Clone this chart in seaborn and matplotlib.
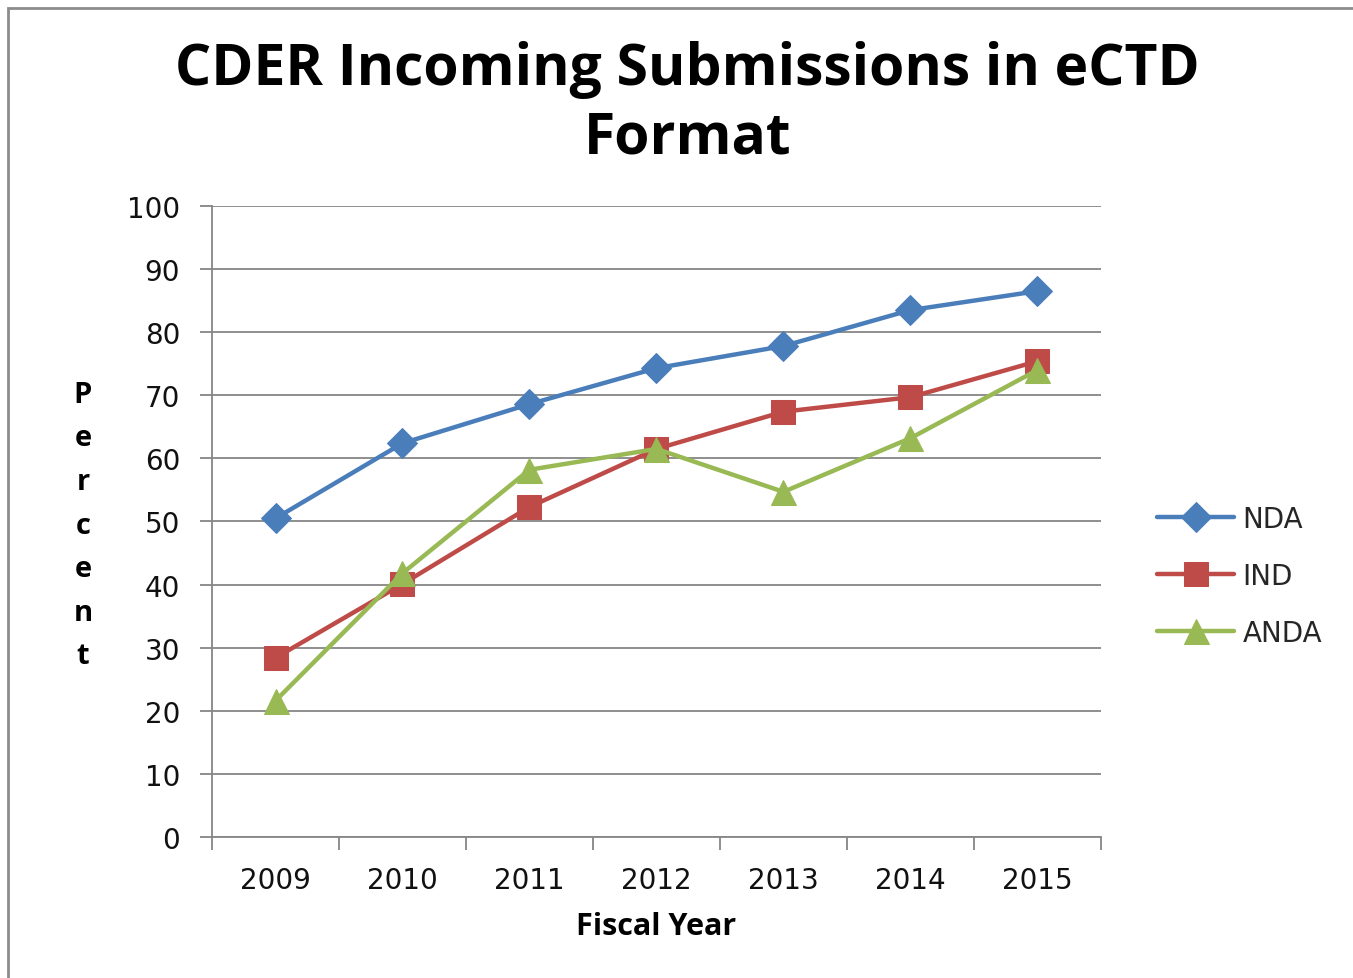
import matplotlib
matplotlib.use("Agg")
import matplotlib.pyplot as plt
import seaborn as sns
import pandas as pd
from matplotlib.patches import Rectangle

# data
years = ['2009', '2010', '2011', '2012', '2013', '2014', '2015']
nda = [50.5, 62.4, 68.6, 74.3, 77.8, 83.5, 86.5]
ind = [28.4, 40.1, 52.3, 61.5, 67.4, 69.7, 75.4]
anda = [21.6, 41.8, 58.2, 61.5, 54.7, 63.2, 74.0]
series_names = ['NDA', 'IND', 'ANDA']
colors = ['#4A7EBB', '#BE4B48', '#98B954']
markers = ['D', 's', '^']
marker_sizes = [15, 17, 18]

sns.set_theme(style='white')
plt.rcParams['font.family'] = ['Open Sans', 'DejaVu Sans']

rows = []
for name, vals in zip(series_names, [nda, ind, anda]):
    for i, v in enumerate(vals):
        rows.append({'pos': i, 'year': years[i], 'value': v, 'series': name})
df = pd.DataFrame(rows)

fig = plt.figure(figsize=(13.53, 9.79), dpi=100)
ax = fig.add_axes([0.1567, 0.144, 0.8137 - 0.1567, 0.7886 - 0.144])

for name, c, m, ms in zip(series_names, colors, markers, marker_sizes):
    sub = df[df['series'] == name]
    sns.lineplot(data=sub, x='pos', y='value', ax=ax, color=c, marker=m,
                 markersize=ms, markeredgecolor=c, linewidth=3.2, label=name)

grid_c = '#868686'
tick_font = {'family': 'DejaVu Sans', 'size': 20}
ax.set_xlim(-0.5, 6.5)
ax.set_ylim(0, 100)
ax.set_yticks(range(0, 101, 10))
ax.set_yticklabels([str(v) for v in range(0, 101, 10)], fontdict=tick_font)
ax.yaxis.grid(True, color=grid_c, linewidth=1.3)
ax.set_axisbelow(True)
ax.set_xticks(range(len(years)))
ax.set_xticklabels(years, fontdict=tick_font)
ax.set_xticks([i - 0.5 for i in range(len(years) + 1)], minor=True)
ax.tick_params(axis='x', which='major', length=0, pad=21, colors='#111111')
ax.tick_params(axis='x', which='minor', length=9, width=1.3, color=grid_c, direction='out', bottom=True)
ax.tick_params(axis='y', length=9, width=1.3, color=grid_c, direction='out', left=True, pad=14,
               labelcolor='#111111')
for s in ['top', 'right']:
    ax.spines[s].set_visible(False)
for s in ['left', 'bottom']:
    ax.spines[s].set_color(grid_c)
    ax.spines[s].set_linewidth(1.3)

ax.set_xlabel('Fiscal Year', fontsize=22, fontweight='bold', labelpad=12, color='black')
ax.set_ylabel('')
fig.text(0.0613, 0.4627, 'P\ne\nr\nc\ne\nn\nt', ha='center', va='center',
         fontsize=21, fontweight='bold', linespacing=1.66, color='black')

fig.text(0.508, 0.8935, 'CDER Incoming Submissions in eCTD\nFormat', ha='center', va='center',
         fontsize=41, fontweight='bold', linespacing=1.22, color='black')

handles, labels = ax.get_legend_handles_labels()
ax.get_legend().remove()
fig.legend(handles, labels, loc='center left', bbox_to_anchor=(0.837, 0.4106), frameon=False,
           prop={'family': 'DejaVu Sans', 'size': 20}, handlelength=2.77, handletextpad=0.29,
           labelspacing=1.04)

# outer chart border
fig.patches.append(Rectangle((8 / 1353, -0.05), 1.2, 1 - 9 / 979 + 0.05, transform=fig.transFigure,
                             fill=False, edgecolor='#8c8c8c', linewidth=2))

fig.savefig('out.png', dpi=100)
